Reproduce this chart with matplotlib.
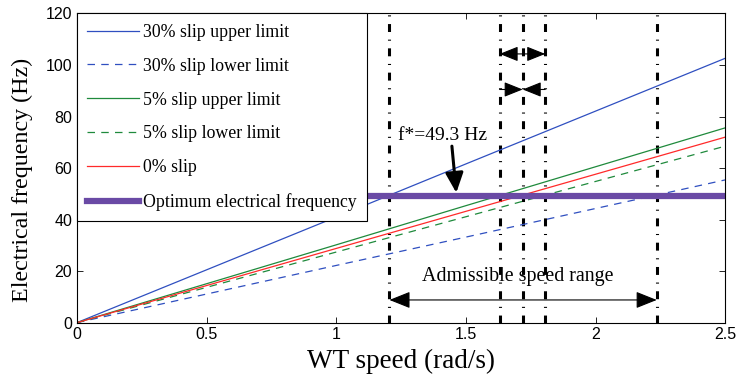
import matplotlib
matplotlib.use("Agg")
import matplotlib.pyplot as plt

# Data
speed = [0, 0.5, 1.0, 1.5, 2.0, 2.5]
slip30_upper = [0, 20.5, 41.0, 61.6, 82.1, 102.6]
slip30_lower = [0, 11.1, 22.2, 33.2, 44.3, 55.4]
slip5_upper = [0, 15.1, 30.2, 45.4, 60.5, 75.6]
slip5_lower = [0, 13.7, 27.4, 41.1, 54.8, 68.5]
slip0 = [0, 14.4, 28.8, 43.2, 57.6, 72.0]
f_opt = 49.3
vlines_x = [1.205, 1.63, 1.719, 1.806, 2.236]
xticks = [0, 0.5, 1, 1.5, 2, 2.5]
yticks = [0, 20, 40, 60, 80, 100, 120]

serif = "Liberation Serif"
sans = "Liberation Sans"

fig = plt.figure(figsize=(7.4, 3.85), dpi=100)
ax = fig.add_axes([0.104, 0.162, 0.876, 0.803])

c_blue = "#2f4fc0"
c_green = "#1f8a3c"
c_red = "#ff2a2a"
c_purple = "#6a4aa5"

ax.plot(speed, slip30_upper, color=c_blue, lw=0.9, label="30% slip upper limit")
ax.plot(speed, slip30_lower, color=c_blue, lw=0.9, ls=(0, (6, 5)), label="30% slip lower limit")
ax.plot(speed, slip5_upper, color=c_green, lw=0.9, label="5% slip upper limit")
ax.plot(speed, slip5_lower, color=c_green, lw=0.9, ls=(0, (6, 5)), label="5% slip lower limit")
ax.plot(speed, slip0, color=c_red, lw=0.9, label="0% slip")
ax.plot([speed[0], speed[-1]], [f_opt, f_opt], color=c_purple, lw=4.5, label="Optimum electrical frequency")

for xv in vlines_x:
    ax.axvline(xv, color="black", lw=2.2, ls=(0, (2.6, 2.5, 0.35, 2.5)), zorder=1)

ax.set_xlim(0, 2.5)
ax.set_ylim(0, 120)
ax.set_xticks(xticks)
ax.set_xticklabels([f"{t:g}" for t in xticks], fontfamily=sans, fontsize=11.5)
ax.set_yticks(yticks)
ax.set_yticklabels([str(t) for t in yticks], fontfamily=sans, fontsize=11.5)
ax.tick_params(direction="in", top=True, right=True, length=4, width=0.6)
for s in ax.spines.values():
    s.set_linewidth(0.8)

ax.set_xlabel("WT speed (rad/s)", fontfamily=serif, fontsize=19.5)
ax.xaxis.set_label_coords(0.5, -0.085)
ax.set_ylabel("Electrical frequency (Hz)", fontfamily=serif, fontsize=17.3)
ax.yaxis.set_label_coords(-0.068, 0.461)

leg = ax.legend(loc="upper left", prop={"family": serif, "size": 12.8}, frameon=True,
                fancybox=False, edgecolor="black", borderaxespad=0, labelspacing=0.95,
                handlelength=2.9, handletextpad=0.25, borderpad=0.58, framealpha=1)
leg.get_frame().set_linewidth(0.8)

# Annotations
ax.annotate("", xy=(vlines_x[0], 8.8), xytext=(vlines_x[4], 8.8),
            arrowprops=dict(arrowstyle="<|-|>,head_length=1.0,head_width=0.4", color="black",
                            lw=0.8, mutation_scale=13, shrinkA=0, shrinkB=0))
ax.text(1.70, 17.8, "Admissible speed range", ha="center", va="center", fontfamily=serif, fontsize=14.4)

ax.annotate("", xy=(vlines_x[1], 104.3), xytext=(vlines_x[3], 104.3),
            arrowprops=dict(arrowstyle="<|-|>,head_length=1.0,head_width=0.4", color="black",
                            lw=0.8, mutation_scale=11.5, shrinkA=0, shrinkB=0))
ax.annotate("", xy=(vlines_x[2], 90.5), xytext=(vlines_x[1], 90.5),
            arrowprops=dict(arrowstyle="-|>,head_length=1.0,head_width=0.4", color="black",
                            lw=0.8, mutation_scale=11.5, shrinkA=0, shrinkB=0))
ax.annotate("", xy=(vlines_x[2], 90.5), xytext=(vlines_x[3], 90.5),
            arrowprops=dict(arrowstyle="-|>,head_length=1.0,head_width=0.4", color="black",
                            lw=0.8, mutation_scale=11.5, shrinkA=0, shrinkB=0))

ax.text(1.24, 72.8, "f*=49.3 Hz", ha="left", va="center", fontfamily=serif, fontsize=14)
ax.annotate("", xy=(1.463, 50.4), xytext=(1.446, 68.5),
            arrowprops=dict(arrowstyle="-|>,head_length=1.0,head_width=0.45", color="black",
                            lw=2.2, mutation_scale=12, shrinkA=0, shrinkB=0))

fig.savefig("out.png", dpi=100)
